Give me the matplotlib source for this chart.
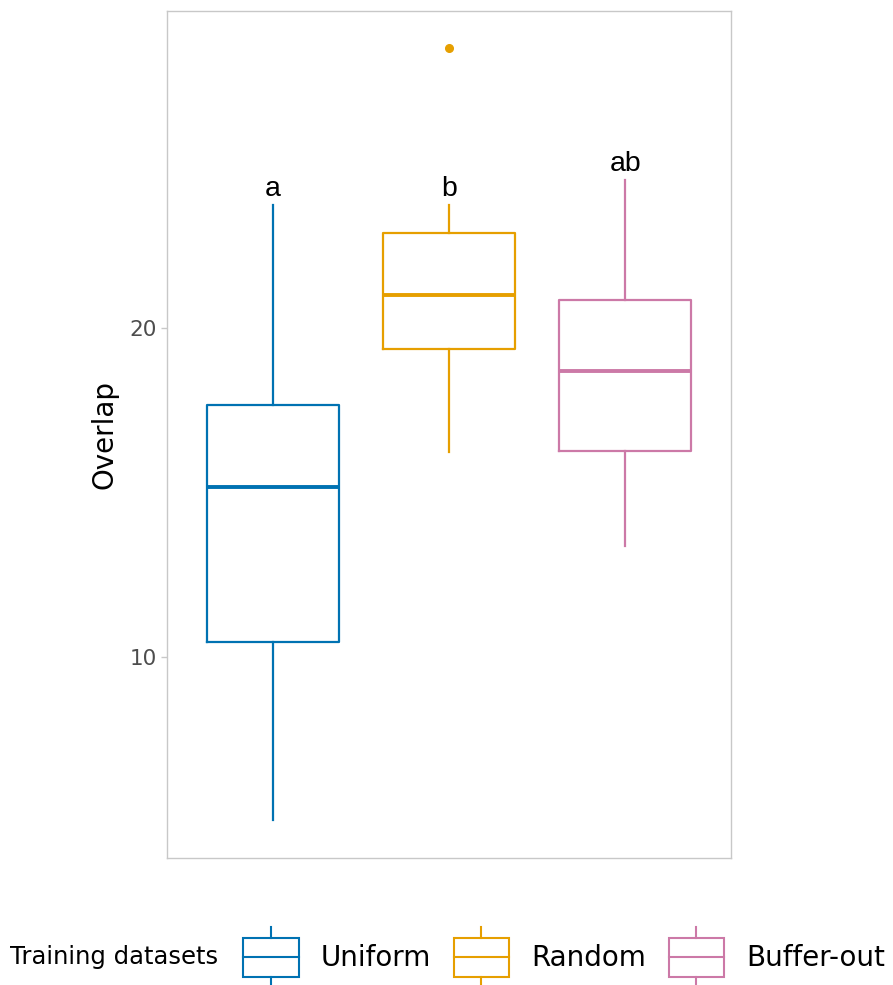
import matplotlib
matplotlib.use("Agg")
import matplotlib.pyplot as plt
from matplotlib.legend_handler import HandlerBase
from matplotlib.patches import Rectangle
from matplotlib.lines import Line2D

# boxplot summaries per training dataset
groups = ["Uniform", "Random", "Buffer-out"]
colors = ["#0072B2", "#E69F00", "#CC79A7"]
whislo = [5.05, 16.23, 13.37]
q1 = [10.46, 19.36, 16.26]
med = [15.17, 21.0, 18.69]
q3 = [17.66, 22.89, 20.85]
whishi = [23.74, 23.74, 24.5]
fliers = [[], [28.51], []]
letters = ["a", "b", "ab"]


class BoxKeyHandler(HandlerBase):
    def create_artists(self, legend, orig_handle, xdescent, ydescent,
                       width, height, fontsize, trans):
        c = orig_handle.get_color()
        x0, y0 = -xdescent, -ydescent
        xm = x0 + width / 2
        ext = height * 0.3
        box = Rectangle((x0, y0), width, height, fill=False, edgecolor=c,
                        lw=1.5, transform=trans)
        mid = Line2D([x0, x0 + width], [y0 + height / 2] * 2, color=c,
                     lw=1.5, transform=trans)
        top = Line2D([xm, xm], [y0 + height, y0 + height + ext], color=c,
                     lw=1.5, transform=trans)
        bot = Line2D([xm, xm], [y0 - ext, y0], color=c, lw=1.5,
                     transform=trans)
        return [box, mid, top, bot]


fig = plt.figure(figsize=(8.93, 9.85), dpi=100)
ax = fig.add_axes([0.187, 0.1289, 0.6316, 0.8599])

stats = []
for i in range(len(groups)):
    stats.append(dict(label=groups[i], whislo=whislo[i], q1=q1[i], med=med[i],
                      q3=q3[i], whishi=whishi[i], fliers=fliers[i]))

pos = list(range(1, len(groups) + 1))
bp = ax.bxp(stats, positions=pos, widths=0.75, showcaps=False,
            patch_artist=False)
for i, c in enumerate(colors):
    bp["boxes"][i].set(color=c, lw=1.6)
    bp["medians"][i].set(color=c, lw=2.8)
    for w in bp["whiskers"][2 * i:2 * i + 2]:
        w.set(color=c, lw=1.6)
    bp["fliers"][i].set(marker="o", markerfacecolor=c, markeredgecolor=c,
                        markersize=5.5)

for i in range(len(groups)):
    ax.annotate(letters[i], (pos[i], whishi[i]), xytext=(0, 2.5),
                textcoords="offset points", ha="center", va="bottom",
                fontsize=20.5, family="Liberation Sans")

ax.set_xlim(0.4, 3.6)
ax.set_ylim(3.89, 29.64)
ax.set_yticks([10, 20])
ax.set_xticks([])
ax.set_ylabel("Overlap", fontsize=20, labelpad=8)
ax.tick_params(axis="y", labelsize=15.5, labelcolor="#4D4D4D", color="#C8C8C8",
               length=4.5, width=1, pad=3)
for s in ax.spines.values():
    s.set_color("#C8C8C8")
    s.set_linewidth(1)

handles = [Line2D([], [], color=c) for c in colors]
fig.text(0.011, 0.028, "Training datasets", fontsize=17.5, va="center",
         ha="left")
fig.legend(handles, groups, handler_map={Line2D: BoxKeyHandler()},
           loc="center left", bbox_to_anchor=(0.2725, 0.028), ncol=3,
           frameon=False, fontsize=20, handlelength=2.0, handleheight=1.75,
           handletextpad=0.8, columnspacing=0.8, borderpad=0,
           borderaxespad=0)

fig.savefig("out.png", dpi=100)
